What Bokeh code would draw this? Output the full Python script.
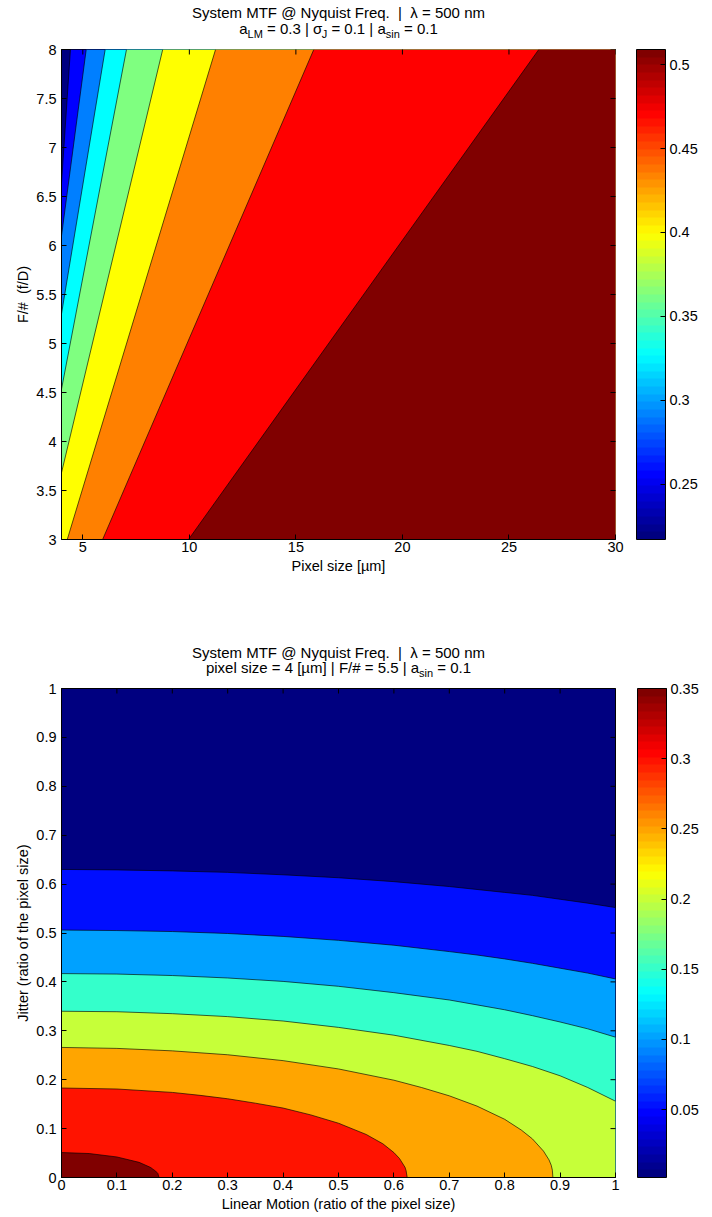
import math
from bokeh.plotting import figure
from bokeh.models import (ColorBar, LinearColorMapper, FixedTicker, CustomJSTickFormatter, Range1d)
from bokeh.core.properties import value
from bokeh.layouts import column
from bokeh.embed import file_html
from bokeh.resources import INLINE

FONT = "Liberation Sans"
NB = "\u00a0"

# ------------------------------------------------------------------ data
# Top panel: system MTF versus pixel size and F-number
top_title = "System MTF @ Nyquist Freq.  |  \u03bb = 500 nm"
top_sub_parts = [("a", False), ("LM", True), (" = 0.3 | \u03c3", False), ("J", True),
                 (" = 0.1 | a", False), ("sin", True), (" = 0.1", False)]
top_xlabel = "Pixel size [\u00b5m]"
top_ylabel = "F/# " + NB + "(f/D)"
top_x_range = [4, 30]
top_y_range = [3, 8]
top_x_ticks = [5, 10, 15, 20, 25, 30]
top_y_ticks = [3, 3.5, 4, 4.5, 5, 5.5, 6, 6.5, 7, 7.5, 8]
top_levels = [0.217, 0.2535, 0.290, 0.3265, 0.363, 0.3995, 0.436, 0.4725, 0.509]
top_cbar_ticks = [0.25, 0.3, 0.35, 0.4, 0.45, 0.5]
# contour boundary k separates level band k-1 from band k:
# pixel size where it meets F/# = 8, and where its straight line meets F/# = 3
top_bound_f_hi = 8
top_bound_f_lo = 3
top_bound_x_at_f8 = [4.42, 5.16, 6.05, 7.05, 8.75, 11.23, 15.84, 26.40]
top_bound_x_at_f3 = [2.88, 2.11, 2.25, 2.65, 3.25, 4.27, 5.93, 9.96]

# Bottom panel: system MTF versus linear motion and jitter
bot_title = "System MTF @ Nyquist Freq.  |  \u03bb = 500 nm"
bot_sub_parts = [("pixel size = 4 [\u00b5m] | F/# = 5.5 | a", False), ("sin", True),
                 (" = 0.1", False)]
bot_xlabel = "Linear Motion (ratio of the pixel size)"
bot_ylabel = "Jitter (ratio of the pixel size)"
bot_x_range = [0, 1]
bot_y_range = [0, 1]
bot_ticks = [0, 0.1, 0.2, 0.3, 0.4, 0.5, 0.6, 0.7, 0.8, 0.9, 1]
bot_levels = [0.0016, 0.05, 0.10, 0.15, 0.20, 0.25, 0.30, 0.35]
bot_cbar_ticks = [0.05, 0.1, 0.15, 0.2, 0.25, 0.3, 0.35]
# contour lines (linear motion, jitter) for levels 0.05 .. 0.35
lm_grid = [0, 0.1, 0.2, 0.3, 0.4, 0.5, 0.6, 0.7, 0.75, 0.8, 0.85, 0.9, 0.95, 1.0]
jit_005 = [0.630, 0.629, 0.627, 0.624, 0.619, 0.613, 0.605, 0.595, 0.589, 0.583, 0.577, 0.569, 0.561, 0.552]
jit_010 = [0.506, 0.505, 0.503, 0.499, 0.493, 0.485, 0.475, 0.462, 0.455, 0.447, 0.438, 0.428, 0.418, 0.406]
jit_015 = [0.417, 0.416, 0.413, 0.408, 0.401, 0.391, 0.378, 0.363, 0.353, 0.343, 0.331, 0.318, 0.304, 0.287]
jit_020 = [0.340, 0.339, 0.335, 0.329, 0.320, 0.307, 0.291, 0.270, 0.258, 0.243, 0.227, 0.208, 0.184, 0.156]
lm_025 = [0, 0.1, 0.2, 0.3, 0.4, 0.5, 0.6, 0.65, 0.7, 0.75, 0.8, 0.83, 0.85, 0.87, 0.88, 0.884, 0.886, 0.887]
jit_025 = [0.266, 0.264, 0.259, 0.251, 0.239, 0.222, 0.199, 0.184, 0.167, 0.146, 0.119, 0.097, 0.079,
           0.054, 0.036, 0.025, 0.015, 0.0]
lm_030 = [0, 0.1, 0.2, 0.25, 0.3, 0.35, 0.4, 0.45, 0.5, 0.55, 0.58, 0.6, 0.61, 0.62, 0.622, 0.624]
jit_030 = [0.183, 0.181, 0.174, 0.168, 0.161, 0.152, 0.142, 0.128, 0.111, 0.088, 0.069, 0.051, 0.039,
           0.021, 0.014, 0.0]
lm_035 = [0, 0.05, 0.1, 0.14, 0.16, 0.17, 0.174, 0.176]
jit_035 = [0.051, 0.049, 0.042, 0.031, 0.021, 0.013, 0.008, 0.0]
bot_curves_x = [lm_grid, lm_grid, lm_grid, lm_grid, lm_025, lm_030, lm_035]
bot_curves_y = [jit_005, jit_010, jit_015, jit_020, jit_025, jit_030, jit_035]


# ------------------------------------------------------------------ helpers
def jet(t):
    t = min(max(t, 0.0), 1.0)
    c = lambda v: min(max(v, 0.0), 1.0)
    r = c(1.5 - abs(4 * t - 3))
    g = c(1.5 - abs(4 * t - 2))
    b = c(1.5 - abs(4 * t - 1))
    return "#%02x%02x%02x" % (round(r * 255), round(g * 255), round(b * 255))


JET64 = [jet(i / 63) for i in range(64)]

# Liberation Sans (Arial metrics) advance widths, 1/1000 em
W = {' ': 278, NB: 278, '=': 584, '.': 278, '|': 260, '[': 278, ']': 278, '/': 278, '#': 556,
     '@': 1015, 'a': 556, 'e': 556, 'i': 222, 'l': 222, 'n': 556, 'p': 556, 's': 500,
     'x': 500, 'z': 500, 'm': 833, 'q': 556, 'r': 333, 't': 278, 'u': 556, 'y': 500,
     'L': 556, 'M': 833, 'J': 500, 'F': 611, 'S': 667, 'T': 611, 'N': 722,
     '\u03c3': 580, '\u03bb': 500, '\u00b5': 576}


def text_w(s, size):
    return sum(W.get(ch, 556) for ch in s) * size / 1000.0


TICK_PX = "14.5px"
fmt = CustomJSTickFormatter(code="return Number(tick.toFixed(3)).toString();")


def title_fig(height, xr, y1, y2, line1, parts):
    # the column layout aligns this frame with the plot frame below, so the
    # title is anchored at the centre of the plot's x range and laid out in pixels
    t = figure(width=712, height=height, x_range=Range1d(*xr), y_range=Range1d(height, 0),
               x_axis_type=None, y_axis_type=None, output_backend="svg", toolbar_location=None,
               min_border=0, outline_line_color=None)
    t.grid.visible = False
    xm = (xr[0] + xr[1]) / 2.0
    line1 = line1.replace(" ", NB)
    t.text(x=[xm], y=[y1], x_offset=[-text_w(line1, 15) / 2.0], text=[line1],
           text_font=value(FONT), text_font_size="15px", text_align="left",
           text_baseline="middle", text_color="black")
    main, sub = 15, 11
    total = sum(text_w(s, sub if is_sub else main) for s, is_sub in parts)
    x0 = -total / 2.0
    for s, is_sub in parts:
        size = sub if is_sub else main
        s2 = s.replace(" ", NB)
        t.text(x=[xm], y=[y2 + (5 if is_sub else 0)], x_offset=[x0], text=[s2],
               text_font=value(FONT), text_font_size="%dpx" % size, text_align="left",
               text_baseline="middle", text_color="black")
        x0 += text_w(s2, size)
    return t


def style_axes(p, xticks, yticks, xlabel, ylabel, xr, yr):
    for ax in p.xaxis + p.yaxis:
        ax.major_label_text_font = FONT
        ax.major_label_text_font_size = TICK_PX
        ax.major_label_text_color = "black"
        ax.axis_label_text_font = FONT
        ax.axis_label_text_font_size = TICK_PX
        ax.axis_label_text_font_style = "normal"
        ax.axis_label_text_color = "black"
        ax.major_tick_in = 5
        ax.major_tick_out = 0
        ax.minor_tick_line_color = None
        ax.axis_line_color = "black"
        ax.major_tick_line_color = "black"
        ax.formatter = fmt
    p.xaxis.ticker = FixedTicker(ticks=xticks)
    p.yaxis.ticker = FixedTicker(ticks=yticks)
    p.xaxis.axis_label = xlabel
    p.yaxis.axis_label = ylabel
    p.xaxis.major_label_standoff = 2
    p.xaxis.axis_label_standoff = 3
    p.yaxis.major_label_standoff = 5
    p.yaxis.axis_label_standoff = 2
    # MATLAB box: inward ticks on the top and right edges as well
    p.scatter(x=xticks, y=[yr[1]] * len(xticks), marker="dash", size=10, angle=math.pi / 2,
              line_color="black", line_width=1)
    p.scatter(x=[xr[1]] * len(yticks), y=yticks, marker="dash", size=10,
              line_color="black", line_width=1)


def add_colorbar(p, lo, hi, ticks, gap):
    mapper = LinearColorMapper(palette=JET64, low=lo, high=hi)
    cb = ColorBar(color_mapper=mapper, ticker=FixedTicker(ticks=ticks), formatter=fmt,
                  width=29, padding=0, margin=0, location=(gap, 0), label_standoff=4,
                  major_tick_in=5, major_tick_out=0, major_tick_line_color="black",
                  minor_tick_line_color=None, bar_line_color="black",
                  major_label_text_font=FONT, major_label_text_font_size=TICK_PX,
                  major_label_text_color="black", background_fill_alpha=0)
    p.add_layout(cb, "right")


# ------------------------------------------------------------------ top panel
t1 = title_fig(40, top_x_range, 12, 28, top_title, top_sub_parts)
p1 = figure(width=712, height=565, x_range=Range1d(*top_x_range), y_range=Range1d(*top_y_range),
            output_backend="svg", toolbar_location=None,
            min_border_left=61, min_border_right=97, min_border_top=9, min_border_bottom=66)
p1.grid.visible = False
lo1, hi1 = top_levels[0], top_levels[-1]
p1.background_fill_color = jet(0.0)
p1.outline_line_color = "black"
band_xs, band_ys, band_cols = [], [], []
for k in range(len(top_bound_x_at_f8)):
    band_xs.append([top_bound_x_at_f3[k], top_bound_x_at_f8[k], top_x_range[1], top_x_range[1]])
    band_ys.append([top_bound_f_lo, top_bound_f_hi, top_bound_f_hi, top_bound_f_lo])
    band_cols.append(jet((top_levels[k + 1] - lo1) / (hi1 - lo1)))
p1.patches(band_xs, band_ys, fill_color=band_cols, line_color=None)
p1.multi_line([[a, b] for a, b in zip(top_bound_x_at_f3, top_bound_x_at_f8)],
              [[top_bound_f_lo, top_bound_f_hi]] * len(top_bound_x_at_f8),
              line_color="black", line_width=0.8, line_alpha=0.8)
style_axes(p1, top_x_ticks, top_y_ticks, top_xlabel, top_ylabel, top_x_range, top_y_range)
add_colorbar(p1, lo1, hi1, top_cbar_ticks, 21)

# ------------------------------------------------------------------ bottom panel
t2 = title_fig(74, bot_x_range, 47, 62, bot_title, bot_sub_parts)
p2 = figure(width=712, height=538, x_range=Range1d(*bot_x_range), y_range=Range1d(*bot_y_range),
            output_backend="svg", toolbar_location=None,
            min_border_left=61, min_border_right=96, min_border_top=9, min_border_bottom=40)
p2.grid.visible = False
lo2, hi2 = bot_levels[0], bot_levels[-1]
p2.background_fill_color = jet(0.0)
p2.outline_line_color = "black"
pxs, pys, pcols = [], [], []
for k, (cx, cy) in enumerate(zip(bot_curves_x, bot_curves_y)):
    pxs.append(list(cx) + [cx[-1], 0])
    pys.append(list(cy) + [0, 0])
    pcols.append(jet((bot_levels[k + 1] - lo2) / (hi2 - lo2)))
p2.patches(pxs, pys, fill_color=pcols, line_color=None)
p2.multi_line([list(c) for c in bot_curves_x], [list(c) for c in bot_curves_y],
              line_color="black", line_width=0.8, line_alpha=0.8)
style_axes(p2, bot_ticks, bot_ticks, bot_xlabel, bot_ylabel, bot_x_range, bot_y_range)
add_colorbar(p2, lo2, hi2, bot_cbar_ticks, 22)

layout = column(t1, p1, t2, p2, spacing=0)
open("out.html", "w").write(file_html(layout, INLINE))
